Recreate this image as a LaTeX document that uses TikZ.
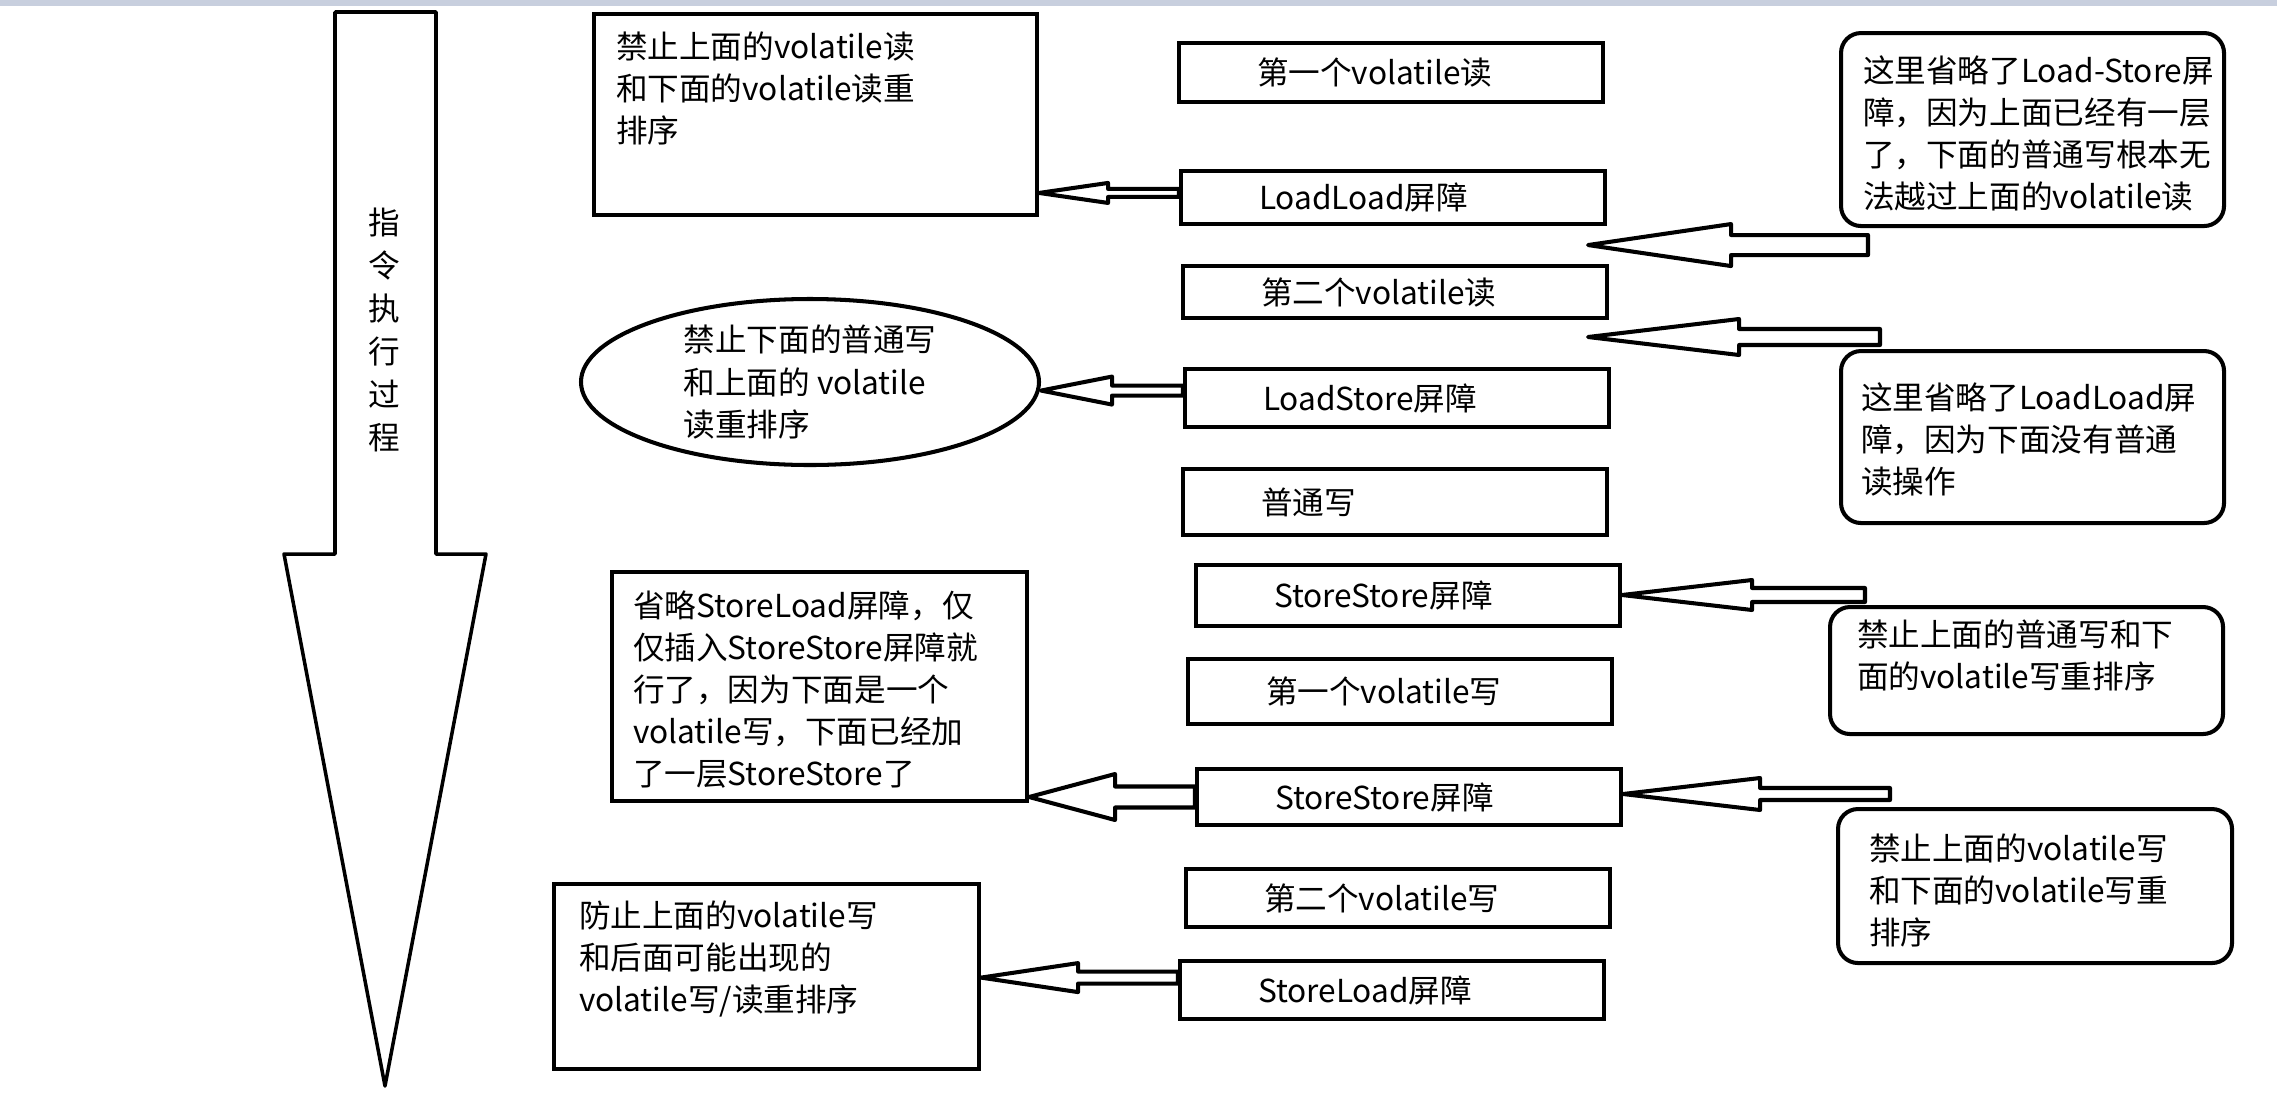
\documentclass[tikz,border=0pt]{standalone}
\usepackage{fontspec}
\setmainfont{Noto Sans CJK SC}
\usepackage{tikz}
\usetikzlibrary{calc,shapes.geometric}
\definecolor{barc}{RGB}{200,207,222}
% hollow block arrow pointing left: tail, tip, shaft half, head half, head length (px)
\newcommand\hollowarrow[5]{%
  \draw[blockarrow] let \p1=(#1), \p2=(#2) in
    (\x2,\y1) -- (\x2+#5*0.2mm,\y1+#4*0.2mm) -- (\x2+#5*0.2mm,\y1+#3*0.2mm)
    -- (\x1,\y1+#3*0.2mm) -- (\x1,\y1-#3*0.2mm) -- (\x2+#5*0.2mm,\y1-#3*0.2mm)
    -- (\x2+#5*0.2mm,\y1-#4*0.2mm) -- cycle;}

\begin{document}
\begin{tikzpicture}[x=0.2mm,y=-0.2mm,
  every node/.style={font=\fontsize{18pt}{24pt}\selectfont},
  opbox/.style={draw,line width=2.3pt,anchor=west,inner xsep=15.6mm,inner ysep=0pt,
                text width=53.6mm,align=left,minimum height=#1},
  note/.style={draw,line width=2.3pt,anchor=north west,align=left,text height=5.6mm},
  softnote/.style={note,rounded corners=4mm},
  blockarrow/.style={draw,line width=2.3pt,line join=round}]
\useasboundingbox (0,0) rectangle (2277,1092);
\fill[barc] (0,0) rectangle (2277,6);

\draw[line width=2pt,line join=round] (335,12) -- (436,12) -- (436,554) -- (486,554)
  -- (385,1086) -- (284,554) -- (335,554) -- cycle;
\node[align=center,font=\fontsize{18pt}{24.5pt}\selectfont] (dir) at (384,330)
  {指\\令\\执\\行\\过\\程};

\node[opbox=11.8mm] (r1) at (1177,72.5) {第一个volatile读};
\node[opbox=10.6mm] (ll) at (1179,197.5) {LoadLoad屏障};
\node[opbox=10.4mm] (r2) at (1181,292) {第二个volatile读};
\node[opbox=11.6mm] (ls) at (1183,398) {LoadStore屏障};
\node[opbox=13.2mm] (nw) at (1181,502) {普通写};
\node[opbox=12.2mm] (ss1) at (1194,595.5) {StoreStore屏障};
\node[opbox=13mm] (w1) at (1186,691.5) {第一个volatile写};
\node[opbox=11.2mm] (ss2) at (1195,797) {StoreStore屏障};
\node[opbox=11.6mm] (w2) at (1184,898) {第二个volatile写};
\node[opbox=11.6mm] (sl) at (1178,990) {StoreLoad屏障};

\node[note,text width=79.8mm,inner xsep=4.4mm,inner ysep=3.2mm,text depth=28.2mm] (na) at (592,12)
  {禁止上面的volatile读\\和下面的volatile读重\\排序};
\node[draw,line width=2.3pt,ellipse,minimum width=91.6mm,minimum height=33.2mm,inner sep=0pt,
      align=left] (nb) at (810,382) {禁止下面的普通写\\和上面的 volatile\\读重排序};
\node[note,text width=74.6mm,inner xsep=4.2mm,inner ysep=3.4mm,text depth=33.4mm] (nc) at (610,570)
  {省略StoreLoad屏障，仅\\仅插入StoreStore屏障就\\行了，因为下面是一个\\volatile写，下面已经加\\了一层StoreStore了};
\node[note,text width=75mm,inner xsep=5mm,inner ysep=3mm,text depth=25.4mm] (nd) at (552,882)
  {防止上面的volatile写\\和后面可能出现的\\volatile写/读重排序};

\node[softnote,text width=67.8mm,inner xsep=4.4mm,inner ysep=4.2mm,text depth=24.6mm] (ne) at (1839,31)
  {\mbox{这里省略了Load-Store屏}\\障，因为上面已经有一层\\了，下面的普通写根本无\\法越过上面的volatile读};
\node[softnote,text width=68.6mm,inner xsep=4mm,inner ysep=6mm,text depth=16.8mm] (nf) at (1839,349)
  {这里省略了LoadLoad屏\\障，因为下面没有普通\\读操作};
\node[softnote,text width=67.8mm,inner xsep=5.4mm,inner ysep=2.2mm,text depth=15.4mm] (ng) at (1828,605)
  {禁止上面的普通写和下\\面的volatile写重排序};
\node[softnote,text width=66.4mm,inner xsep=6.2mm,inner ysep=4.6mm,text depth=16mm] (nh) at (1836,807)
  {禁止上面的volatile写\\和下面的volatile写重\\排序};

\coordinate (tll) at ($(ll.north west)!.42!(ll.south west)$);
\coordinate (tls) at ($(ls.north west)!.38!(ls.south west)$);
\coordinate (tsl) at ($(sl.north west)!.3!(sl.south west)$);
\coordinate (te) at ($(ne.south west)+(29,17)$);
\coordinate (tf) at ($(nf.north west)+(41,-12)$);
\coordinate (tg) at ($(ng.north west)+(37,-10)$);
\coordinate (th) at ($(nh.north west)+(54,-13)$);

\hollowarrow{tll}{na.east}{4}{10}{69}
\hollowarrow{tls}{nb.east}{5}{14}{71}
\hollowarrow{te}{$(ll.east)+(-19,0)$}{10}{21}{143}
\hollowarrow{tf}{$(ls.east)+(-23,0)$}{8}{18}{151}
\hollowarrow{tg}{ss1.east}{7}{15}{130}
\hollowarrow{th}{ss2.east}{6}{16}{137}
\hollowarrow{ss2.west}{nc.east}{10.5}{23}{86}
\hollowarrow{tsl}{nd.east}{6}{14.5}{97}
\end{tikzpicture}
\end{document}
